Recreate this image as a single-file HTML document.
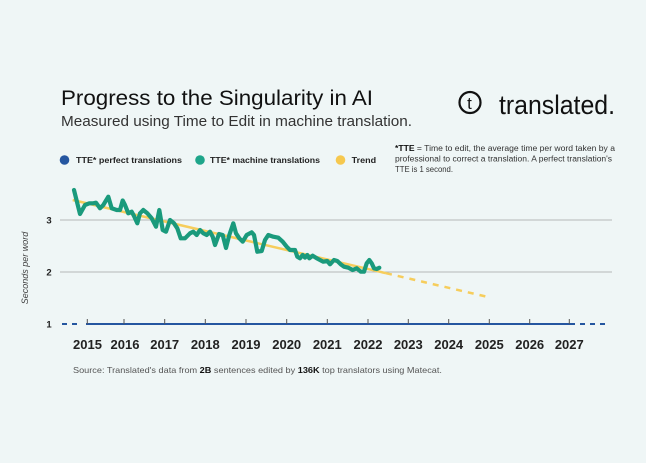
<!DOCTYPE html>
<html><head><meta charset="utf-8"><style>
html,body{margin:0;padding:0;background:#eff6f6;}
svg{display:block;}
text{font-family:"Liberation Sans",sans-serif;}
</style></head><body>
<svg width="646" height="463" viewBox="0 0 646 463" xmlns="http://www.w3.org/2000/svg">
<rect width="646" height="463" fill="#eff6f6"/>
<!-- Header -->
<text x="61" y="105" font-size="21" fill="#111" textLength="312" lengthAdjust="spacingAndGlyphs">Progress to the Singularity in AI</text>
<text x="61" y="126" font-size="15" fill="#333" textLength="351" lengthAdjust="spacingAndGlyphs">Measured using Time to Edit in machine translation.</text>
<!-- Logo -->
<circle cx="470" cy="102.5" r="10.5" fill="none" stroke="#111" stroke-width="2.2"/>
<text x="469.5" y="109" font-size="17" fill="#111" text-anchor="middle">t</text>
<text x="499" y="114" font-size="27" fill="#111" textLength="116" lengthAdjust="spacingAndGlyphs">translated.</text>
<!-- Legend -->
<circle cx="64.5" cy="160" r="4.8" fill="#2556a0"/>
<text x="76" y="163" font-size="8.5" font-weight="bold" fill="#222" textLength="106" lengthAdjust="spacingAndGlyphs">TTE* perfect translations</text>
<circle cx="200" cy="160" r="4.8" fill="#1ea58a"/>
<text x="210" y="163" font-size="8.5" font-weight="bold" fill="#222" textLength="110" lengthAdjust="spacingAndGlyphs">TTE* machine translations</text>
<circle cx="340.5" cy="160" r="4.8" fill="#f6c84e"/>
<text x="351.7" y="163" font-size="8.5" font-weight="bold" fill="#222" textLength="24.5" lengthAdjust="spacingAndGlyphs">Trend</text>
<text x="395" y="151" font-size="8" fill="#333" textLength="220" lengthAdjust="spacingAndGlyphs"><tspan font-weight="bold" fill="#111">*TTE</tspan> = Time to edit, the average time per word taken by a</text>
<text x="395" y="161.5" font-size="8" fill="#333" textLength="217" lengthAdjust="spacingAndGlyphs">professional to correct a translation. A perfect translation's</text>
<text x="395" y="172" font-size="8" fill="#333" textLength="58" lengthAdjust="spacingAndGlyphs">TTE is 1 second.</text>
<!-- Gridlines -->
<line x1="60" y1="220" x2="612" y2="220" stroke="#b4b8b8" stroke-width="1"/>
<line x1="60" y1="272" x2="612" y2="272" stroke="#b4b8b8" stroke-width="1"/>
<!-- Y labels -->
<g font-size="9.5" font-weight="bold" fill="#222" text-anchor="middle">
<text x="49" y="223.5">3</text>
<text x="49" y="275.5">2</text>
<text x="49" y="327.5">1</text>
</g>
<text transform="translate(28,268) rotate(-90)" font-size="9" font-style="italic" fill="#444" text-anchor="middle">Seconds per word</text>
<!-- Perfect translation line -->
<line x1="62" y1="324" x2="80" y2="324" stroke="#2556a0" stroke-width="2" stroke-dasharray="5,5"/>
<line x1="86" y1="324" x2="575" y2="324" stroke="#2556a0" stroke-width="2"/>
<line x1="580" y1="324" x2="610" y2="324" stroke="#2556a0" stroke-width="2" stroke-dasharray="5,5"/>
<!-- Ticks -->
<g stroke="#555" stroke-width="1">
<line x1="87.3" y1="319" x2="87.3" y2="324"/>
<line x1="124" y1="319" x2="124" y2="324"/>
<line x1="164.7" y1="319" x2="164.7" y2="324"/>
<line x1="205.3" y1="319" x2="205.3" y2="324"/>
<line x1="246" y1="319" x2="246" y2="324"/>
<line x1="286.7" y1="319" x2="286.7" y2="324"/>
<line x1="327.3" y1="319" x2="327.3" y2="324"/>
<line x1="368" y1="319" x2="368" y2="324"/>
<line x1="408.3" y1="319" x2="408.3" y2="324"/>
<line x1="448.7" y1="319" x2="448.7" y2="324"/>
<line x1="489.3" y1="319" x2="489.3" y2="324"/>
<line x1="529.7" y1="319" x2="529.7" y2="324"/>
<line x1="569.3" y1="319" x2="569.3" y2="324"/>
</g>
<g font-size="13" font-weight="bold" fill="#222" text-anchor="middle">
<text x="87.5" y="349">2015</text>
<text x="125" y="349">2016</text>
<text x="164.7" y="349">2017</text>
<text x="205.3" y="349">2018</text>
<text x="246" y="349">2019</text>
<text x="286.7" y="349">2020</text>
<text x="327.3" y="349">2021</text>
<text x="368" y="349">2022</text>
<text x="408.3" y="349">2023</text>
<text x="448.7" y="349">2024</text>
<text x="489.3" y="349">2025</text>
<text x="529.7" y="349">2026</text>
<text x="569.3" y="349">2027</text>
</g>
<!-- Trend -->
<line x1="72.7" y1="200" x2="386" y2="273.2" stroke="#f6cd5c" stroke-width="2.5"/>
<line x1="386" y1="273.2" x2="488" y2="297" stroke="#f6cd5c" stroke-width="2.5" stroke-dasharray="6,6"/>
<!-- Machine translations -->
<polyline fill="none" stroke="#1a9a7c" stroke-width="4.2" stroke-linejoin="round" stroke-linecap="round" points="74,190 80,214 85,205 89.3,203.3 93.3,203.3 96,202.7 100,208.3 103.3,205 108.3,196.7 111.7,208.3 116.7,210 120,210 122.7,200.5 125,205 128.3,213.3 131.7,211.7 134,216 137.3,223.3 140,213.3 143.3,210 147.3,213.3 151.7,218.3 156,226.7 159.3,210 162.7,230 166,231.7 170,220 174,223.3 177.3,228.3 180.7,238.3 185,238.3 190,233.3 193.3,231.7 196.7,235 200,230 203.3,233.3 206.7,235 210,231.7 212.7,236.7 215,245 219,234 222.7,235 226,248 229.3,235 233.3,223.3 236,233.3 239.3,238.3 242.7,241.7 246.7,235 251.7,232.3 254,235 257.3,251.7 261.7,251 265,240 268.3,235 273.3,236.7 278.3,237.7 282.7,241.7 286.7,246.7 290,250 295,250 297.3,256.7 300,258.3 302.7,255 305,257.7 307.3,255 309.3,258.3 312.7,255.7 316.7,258.3 320,260 323.3,261.7 327.3,261 330,264.3 334,260 337.3,261 340.7,264.3 344,266.7 348.3,267.7 352.7,270 356.7,268.3 360.7,271.7 364,271.7 366.7,263.3 369.3,260 371.7,263.3 374,268.3 376.7,269 379.3,267.7"/>
<!-- Source -->
<text x="73" y="373" font-size="8.5" fill="#555" textLength="369" lengthAdjust="spacingAndGlyphs">Source:  Translated's data from <tspan font-weight="bold" fill="#111">2B</tspan> sentences edited by <tspan font-weight="bold" fill="#111">136K</tspan> top translators using Matecat.</text>
</svg>
</body></html>
